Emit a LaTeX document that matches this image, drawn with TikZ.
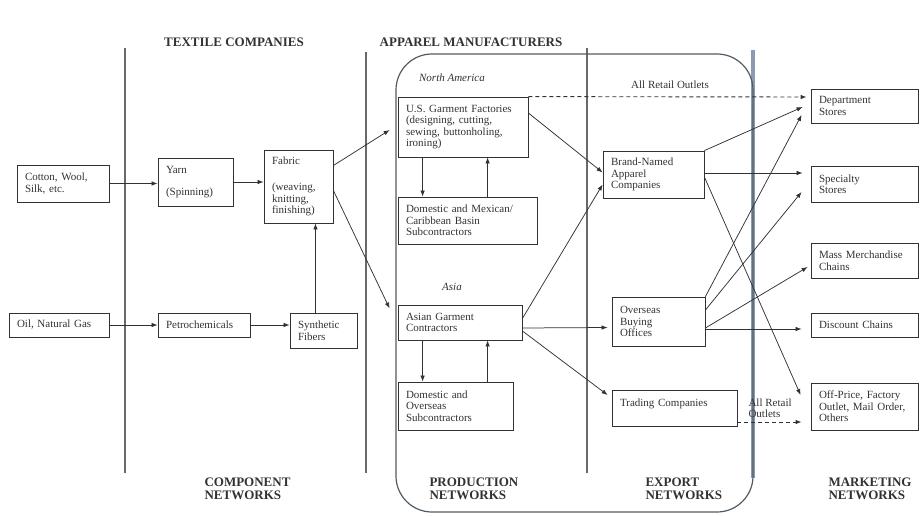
\documentclass[tikz,border=0pt]{standalone}
\usepackage{fontspec}
\setmainfont{Liberation Serif}
\usepackage{tikz}
\usetikzlibrary{arrows,arrows.meta,shapes,positioning}
\usepackage{xcolor}
\definecolor{chink}{RGB}{50,50,50}
\definecolor{chgray}{RGB}{105,105,105}
\definecolor{chslate}{RGB}{80,90,100}
\definecolor{chsteel}{RGB}{140,156,176}
\tikzstyle{chainbox} = [rectangle, draw=chink, line width=0.8pt, inner xsep=8pt, inner ysep=2pt, align=left, font=\fontsize{11}{11.5}\selectfont, text=chink]
\tikzstyle{arrow} = [line width=0.75pt,-{Latex[length=6pt,width=4.5pt]},color=chink]
\tikzstyle{outlet} = [arrow, line width=0.9pt, dash pattern=on 4pt off 3pt]
\tikzstyle{tier} = [line width=1.1pt, color=chgray]
\tikzstyle{heading} = [font=\fontsize{13}{13}\selectfont\bfseries, text=chink, align=left]
\tikzstyle{region} = [font=\fontsize{11}{11.5}\selectfont\itshape, text=chink]
\tikzstyle{note} = [font=\fontsize{11}{11}\selectfont, text=chink, align=left]

\begin{document}
\begin{tikzpicture}[x=1pt,y=-1pt]
\useasboundingbox (0,0) rectangle (921,516);

% Network tiers
\draw[tier] (125,48) -- (125,473);
\draw[tier] (366,52) -- (366,473);
\draw[tier] (587,48) -- (587,473);
\draw[line width=3.5pt, chsteel] (753,50) -- (753,478);
\draw[draw=chslate, line width=1.2pt, rounded corners=36pt] (396,54) rectangle (753,512);

% Headings
\node[heading] (textile) at (234,42) {TEXTILE COMPANIES};
\node[heading] (apparel) at (471,42) {APPAREL MANUFACTURERS};
\node[heading, anchor=west] (component) at (201,488.5) {COMPONENT\\NETWORKS};
\node[heading, anchor=west] (production) at (426,488.5) {PRODUCTION\\NETWORKS};
\node[heading, anchor=west] (export) at (642,488.5) {EXPORT\\NETWORKS};
\node[heading, anchor=west] (marketing) at (825,488.5) {MARKETING\\NETWORKS};

% Raw materials and components
\node[chainbox, text width=76pt, minimum height=37pt] (cotton) at (63,183.5) {Cotton, Wool,\\Silk, etc.};
\node[chainbox, text width=84pt, minimum height=24pt] (oil) at (59,325) {Oil, Natural Gas};
\node[chainbox, text width=59pt, minimum height=48pt] (yarn) at (195.5,182) {Yarn\\[11pt](Spinning)};
\node[chainbox, text width=76pt, minimum height=24pt] (petro) at (204,325) {Petrochemicals};
\node[chainbox, text width=53pt, minimum height=73pt] (fabric) at (298.5,186.5) {Fabric\\[15pt](weaving,\\knitting,\\finishing)};
\node[chainbox, text width=51pt, minimum height=35pt] (synth) at (323.5,330.5) {Synthetic\\Fibers};

% Production
\node[region] (namerica) at (452,78) {North America};
\node[region] (asia) at (452,287) {Asia};
\node[chainbox, text width=114pt, minimum height=60pt] (usg) at (463,127) {U.S. Garment Factories\\(designing, cutting,\\sewing, buttonholing,\\ironing)};
\node[chainbox, text width=123pt, minimum height=47pt] (mexsub) at (467.5,220.5) {Domestic and Mexican/\\Caribbean Basin\\Subcontractors};
\node[chainbox, text width=108pt, minimum height=35pt] (asian) at (460,322.5) {Asian Garment\\Contractors};
\node[chainbox, text width=99pt, minimum height=48pt] (asiasub) at (455.5,406) {Domestic and\\Overseas\\Subcontractors};

% Export
\node[chainbox, text width=85pt, minimum height=47pt] (brand) at (653.5,174.5) {Brand-Named\\Apparel\\Companies};
\node[chainbox, text width=77pt, minimum height=49pt] (buying) at (658.5,321.5) {Overseas\\Buying\\Offices};
\node[chainbox, text width=109pt, minimum height=36pt] (trading) at (674.5,408) {Trading Companies\\\mbox{}};

% Marketing
\node[chainbox, text width=91pt, minimum height=34pt] (dept) at (864.5,106) {Department\\Stores};
\node[chainbox, text width=91pt, minimum height=36pt] (specialty) at (864.5,184) {Specialty\\Stores};
\node[chainbox, text width=91pt, minimum height=35pt] (mass) at (864.5,260.5) {Mass Merchandise\\Chains};
\node[chainbox, text width=91pt, minimum height=24pt] (discount) at (864.5,325) {Discount Chains};
\node[chainbox, text width=91pt, minimum height=47pt] (offprice) at (864.5,406.5) {Off-Price, Factory\\Outlet, Mail Order,\\Others};

% Component flows
\draw[arrow] (cotton.east) -- (yarn.west |- cotton.east);
\draw[arrow] (yarn.east) -- (fabric.west |- yarn.east);
\draw[arrow] (oil.east) -- (petro.west);
\draw[arrow] (petro.east) -- (synth.west |- petro.east);
\draw[arrow] ([xshift=-8pt]synth.north) -- ([xshift=-8pt]synth.north |- fabric.south);
\draw[arrow] ([yshift=21pt]fabric.east) -- ([xshift=-8pt,yshift=-3pt]usg.west);
\draw[arrow] ([yshift=-4pt]fabric.east) -- ([xshift=-8pt,yshift=14pt]asian.west);

% Subcontracting
\draw[arrow] ([xshift=25pt]usg.south west) -- ([xshift=25pt]usg.south west |- mexsub.north);
\draw[arrow] ([xshift=90pt]usg.south west |- mexsub.north) -- ([xshift=90pt]usg.south west);
\draw[arrow] ([xshift=25pt]asian.south west) -- ([xshift=25pt]asian.south west |- asiasub.north);
\draw[arrow] ([xshift=90pt]asian.south west |- asiasub.north) -- ([xshift=90pt]asian.south west);

% Production to export
\draw[arrow] ([yshift=14pt]usg.east) -- ([yshift=2pt]brand.west);
\draw[arrow] ([yshift=4pt]asian.east) -- ([yshift=-10pt]brand.west);
\draw[arrow] ([yshift=-5.5pt]asian.east) -- ([xshift=-4pt,yshift=-6pt]buying.west);
\draw[arrow] ([yshift=-8.5pt]asian.east) -- ([xshift=-4pt,yshift=13pt]trading.west);

% Export to marketing
\draw[arrow] (brand.north east) -- ([xshift=-8pt,yshift=-1pt]dept.west);
\draw[arrow] ([yshift=1.5pt]brand.east) -- ([xshift=-8pt,yshift=11pt]specialty.west);
\draw[arrow] ([yshift=-2.5pt]brand.east) -- ([xshift=-10pt,yshift=11.5pt]offprice.west);
\draw[arrow] (buying.north east) -- ([xshift=-9pt,yshift=-9pt]dept.west);
\draw[arrow] ([yshift=11.5pt]buying.east) -- ([xshift=-9pt,yshift=-8pt]specialty.west);
\draw[arrow] ([yshift=-6.5pt]buying.east) -- ([xshift=-3pt,yshift=-6.5pt]mass.west);
\draw[arrow] ([yshift=-7.5pt]buying.east) -- ([xshift=-9pt,yshift=-4pt]discount.west);

% Direct retail outlets
\draw[outlet] (usg.north east) -- ([xshift=-4pt,yshift=9pt]dept.west);
\node[note] (outletsA) at (670,85) {All Retail Outlets};
\draw[outlet] ([yshift=-14pt]trading.east) -- ([xshift=-9pt,yshift=-15.5pt]offprice.west);
\node[note, anchor=west] (outletsB) at (745,408.5) {All Retail\\Outlets};
\end{tikzpicture}
\end{document}
